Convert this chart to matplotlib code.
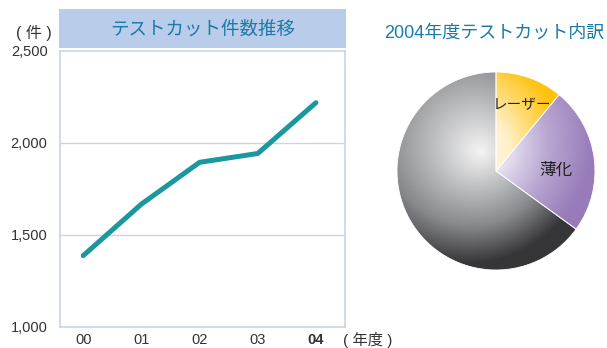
import numpy as np
import matplotlib.pyplot as plt
from matplotlib.colors import LinearSegmentedColormap
from matplotlib.patches import Rectangle

plt.rcParams['font.family'] = ['Liberation Sans', 'Noto Sans CJK JP']

years = ['00', '01', '02', '03', '04']
test_cuts = [1388, 1668, 1895, 1943, 2219]
y_ticks = [1000, 1500, 2000, 2500]

pie_labels = ['レーザー', '薄化', 'その他']
pie_shares = [11.0, 24.0, 65.0]

frame_color = '#c8d4ea'
text_color = '#333333'
title_color = '#1b7aa9'

fig = plt.figure(figsize=(6.07, 3.48), dpi=100)

# line chart: test cut count per year
ax = fig.add_axes([60 / 607, 1 - 327 / 348, 285 / 607, 276 / 348])
x = np.arange(len(years))
ax.plot(x, test_cuts, color='#1b979e', linewidth=3.6, solid_capstyle='round',
        solid_joinstyle='round', zorder=3)
ax.set_xlim(-0.40, 4.50)
ax.set_ylim(1000, 2500)
ax.set_yticks(y_ticks)
ax.set_yticklabels([f'{v:,}' for v in y_ticks], fontsize=10.5, color=text_color)
ax.set_xticks(x)
ax.set_xticklabels(years, fontsize=10.5, color=text_color)
ax.get_xticklabels()[-1].set_fontweight('bold')
ax.tick_params(axis='x', length=0, pad=4)
ax.tick_params(axis='y', length=0, pad=9)
for v in y_ticks[1:-1]:
    ax.axhline(v, color=frame_color, linewidth=1, zorder=1)
for s in ax.spines.values():
    s.set_color(frame_color)
    s.set_linewidth(1.2)

fig.text(34 / 607, 1 - 33 / 348, '( 件 )', fontsize=11.5, color=text_color,
         ha='center', va='center')
fig.text(368 / 607, 1 - 340 / 348, '( 年度 )', fontsize=11, color=text_color,
         ha='center', va='center')

# title band above the line chart
fig.patches.append(Rectangle((59 / 607, 1 - 48 / 348), 287 / 607, 39 / 348,
                             transform=fig.transFigure, facecolor='#b9cce9',
                             edgecolor='none'))
fig.text(203 / 607, 1 - 30 / 348, 'テストカット件数推移', fontsize=13.3,
         color=title_color, ha='center', va='center')

# pie chart: 2004 breakdown with shaded wedges
fig.text(604 / 607, 1 - 33 / 348, '2004年度テストカット内訳', fontsize=13,
         color=title_color, ha='right', va='center')

pax = fig.add_axes([(496 - 110) / 607, (348 - 171 - 110) / 348, 220 / 607, 220 / 348])
wedges, _ = pax.pie(pie_shares, startangle=90, counterclock=False, radius=0.99,
                    colors=['none'] * 3,
                    wedgeprops=dict(edgecolor='white', linewidth=0.6))
pax.set_xlim(-1.1, 1.1)
pax.set_ylim(-1.1, 1.1)
pax.set_aspect('equal')
pax.axis('off')

gx, gy = np.meshgrid(np.linspace(-1.1, 1.1, 400), np.linspace(-1.1, 1.1, 400))
hx, hy = -0.15, 0.19
dist = np.hypot(gx - hx, gy - hy)
# darker toward the lower right
shade = dist + 0.18 * ((gx - hx) - (gy - hy)) / np.sqrt(2)

cmaps = [
    LinearSegmentedColormap.from_list('laser', [(0, '#fffaf0'), (0.25, '#fff0c8'),
                                                (0.7, '#ffc20e'), (1, '#ffbf00')]),
    LinearSegmentedColormap.from_list('thin', [(0, '#f4f1f8'), (0.25, '#e6e0f0'),
                                               (0.6, '#b9a7d2'), (1, '#977cb9')]),
    LinearSegmentedColormap.from_list('other', [(0, '#f4f4f4'), (0.36, '#b8b9bb'),
                                                (0.66, '#88898c'), (1, '#363638')]),
]
for wedge, cmap in zip(wedges, cmaps):
    im = pax.imshow(np.clip(shade / 1.25, 0, 1), cmap=cmap, vmin=0, vmax=1,
                    extent=(-1.1, 1.1, -1.1, 1.1), origin='lower', zorder=1)
    im.set_clip_path(wedge)
    wedge.set_zorder(2)

fig.text(522 / 607, 1 - 105 / 348, pie_labels[0], fontsize=10.5, color='#222222',
         ha='center', va='center')
fig.text(556 / 607, 1 - 170 / 348, pie_labels[1], fontsize=12, color='#222222',
         ha='center', va='center')

fig.savefig('out.png', dpi=100)
